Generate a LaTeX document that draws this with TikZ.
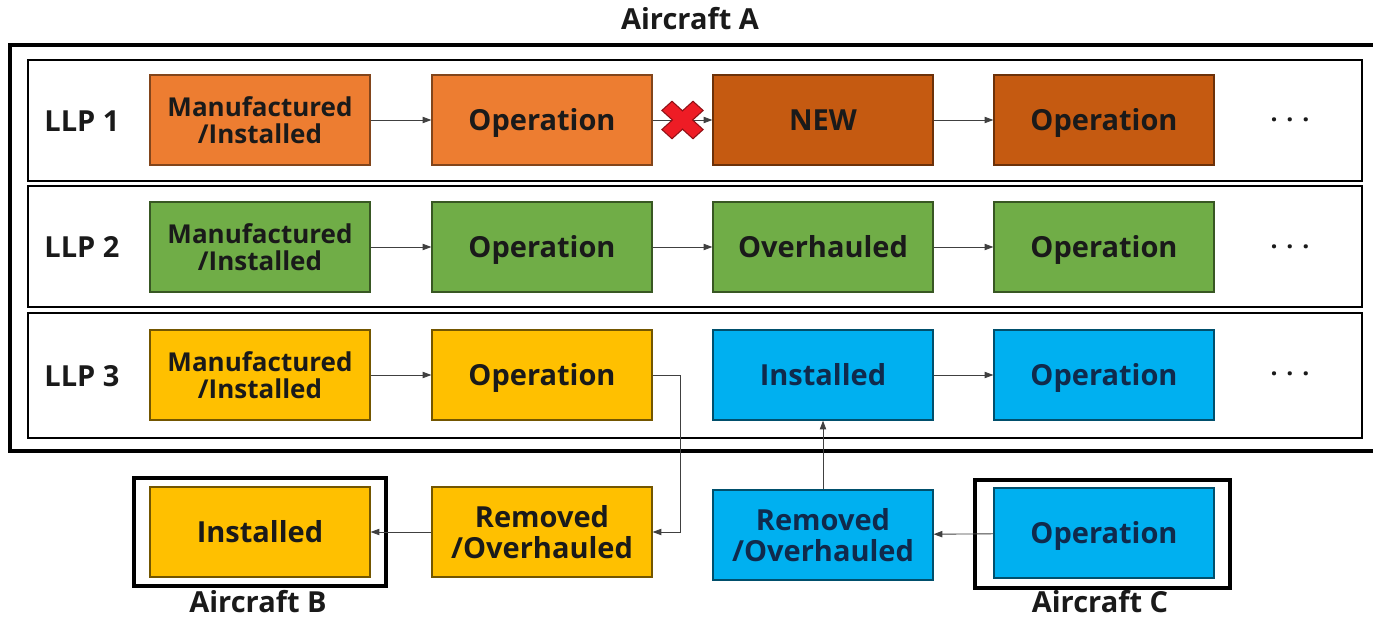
\documentclass[tikz,border=0pt]{standalone}
\usepackage{fontspec}
\setmainfont{Open Sans}
\usetikzlibrary{arrows.meta}
\definecolor{orgA}{HTML}{ED7D31}
\definecolor{orgB}{HTML}{C55A11}
\definecolor{grn}{HTML}{70AD47}
\definecolor{ylw}{HTML}{FFC000}
\definecolor{blu}{HTML}{00B0F0}
\definecolor{txt}{HTML}{1A1A1A}
\definecolor{navy}{HTML}{102A4C}
\definecolor{xred}{HTML}{EE1C25}
\begin{document}
\begin{tikzpicture}[x=0.02cm,y=-0.02cm,
  box/.style={rectangle, minimum width=4.4cm, minimum height=1.8cm, inner sep=0pt,
    line width=0.7pt, align=center, text=txt, font=\bfseries\fontsize{16.5}{17.5}\selectfont},
  one/.style={text height=11.6pt, text depth=0pt},
  two/.style={font=\bfseries\fontsize{14.8}{15.5}\selectfont},
  bo/.style={box, fill=orgA, draw=orgA!55!black},
  bd/.style={box, fill=orgB, draw=orgB!55!black},
  bg/.style={box, fill=grn, draw=grn!50!black},
  by/.style={box, fill=ylw, draw=ylw!45!black},
  bb/.style={box, fill=blu, draw=blu!45!black, text=navy},
  arr/.style={draw=black!75, line width=0.5pt, -{Triangle[length=5pt,width=3.6pt]}},
  frame/.style={draw=black, line width=1.1pt},
  lab/.style={font=\bfseries\fontsize{16.5}{18}\selectfont, text=txt},
  dots/.style={font=\bfseries\fontsize{14}{16}\selectfont, text=txt}
]
\useasboundingbox (0,0) rectangle (1373,619);
% frames
\draw[draw=black, line width=2pt] (1420,45) -- (10,45) -- (10,451) -- (1420,451);
\draw[frame] (28,60) rectangle (1362,181);
\draw[frame] (28,186) rectangle (1362,307);
\draw[frame] (28,313) rectangle (1362,438);
\draw[draw=black, line width=1.8pt] (134,478) rectangle (386,586);
\draw[draw=black, line width=1.8pt] (975,480) rectangle (1230,588);
% titles
\node[lab, anchor=base] (tA) at (690,29) {Aircraft A};
\node[lab, anchor=base] (tB) at (258,612) {Aircraft B};
\node[lab, anchor=base] (tC) at (1100,612) {Aircraft C};
\node[lab, one] (l1) at (82,121) {LLP 1};
\node[lab, one] (l2) at (82,247) {LLP 2};
\node[lab, one] (l3) at (82,376) {LLP 3};
% row 1
\node[bo,two] (a1) at (260,120) {Manufactured\\/Installed};
\node[bo,one] (a2) at (542,120) {Operation};
\node[bd,one] (a3) at (823,120) {NEW};
\node[bd,one] (a4) at (1104,120) {Operation};
\node[dots] (d1) at (1290,123) {·\hspace{5pt}·\hspace{5pt}·};
% row 2
\node[bg,two] (b1) at (260,247) {Manufactured\\/Installed};
\node[bg,one] (b2) at (542,247) {Operation};
\node[bg,one] (b3) at (823,247) {Overhauled};
\node[bg,one] (b4) at (1104,247) {Operation};
\node[dots] (d2) at (1290,250) {·\hspace{5pt}·\hspace{5pt}·};
% row 3
\node[by,two] (c1) at (260,375) {Manufactured\\/Installed};
\node[by,one] (c2) at (542,375) {Operation};
\node[bb,one] (c3) at (823,375) {Installed};
\node[bb,one] (c4) at (1104,375) {Operation};
\node[dots] (d3) at (1290,377) {·\hspace{5pt}·\hspace{5pt}·};
% bottom
\node[by,one] (iB) at (260,532) {Installed};
\node[by] (rY) at (542,532) {Removed\\/Overhauled};
\node[bb] (rB) at (823,535) {Removed\\/Overhauled};
\node[bb,one] (oC) at (1104,533) {Operation};
% arrows
\draw[arr] (a1) -- (a2);
\draw[arr] (a2) -- (a3);
\draw[arr] (a3) -- (a4);
\draw[arr] (b1) -- (b2);
\draw[arr] (b2) -- (b3);
\draw[arr] (b3) -- (b4);
\draw[arr] (c1) -- (c2);
\draw[arr] (c3) -- (c4);
\draw[arr] (c2.east) -- ++(28,0) |- (rY.east);
\draw[arr] (rY) -- (iB);
\draw[arr] (oC) -- (rB);
\draw[arr] (rB) -- (c3);
% red cross
\path (a2.east) -- (a3.west) coordinate[pos=0.5] (xm);
\draw[fill=xred, draw=xred!60!black, line width=0.6pt, shift={(xm)}, xscale=1.1, rotate=45]
  (6.5,20) -- (6.5,6.5) -- (20,6.5) -- (20,-6.5) -- (6.5,-6.5) -- (6.5,-20) -- (-6.5,-20) -- (-6.5,-6.5)
  -- (-20,-6.5) -- (-20,6.5) -- (-6.5,6.5) -- (-6.5,20) -- cycle;
\end{tikzpicture}
\end{document}
